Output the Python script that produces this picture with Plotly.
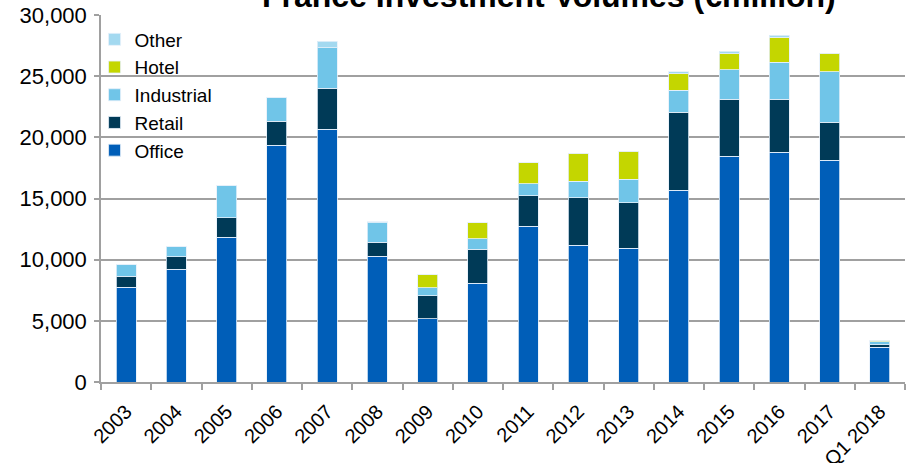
import plotly.graph_objects as go

categories = ["2003", "2004", "2005", "2006", "2007", "2008", "2009", "2010",
              "2011", "2012", "2013", "2014", "2015", "2016", "2017", "Q1 2018"]

office     = [7740, 9210, 11830, 19350, 20680, 10280, 5180, 8070,
              12730, 11170, 10930, 15670, 18470, 18780, 18120, 2840]
retail     = [925, 1010, 1600, 1980, 3350, 1140, 1880, 2800,
              2480, 3900, 3730, 6400, 4660, 4350, 3130, 190]
industrial = [980, 840, 2650, 1940, 3290, 1600, 650, 850,
              1010, 1330, 1910, 1770, 2400, 3000, 4110, 250]
hotel      = [0, 0, 0, 0, 0, 0, 1040, 1280,
              1720, 2300, 2290, 1360, 1310, 2070, 1530, 140]
other      = [0, 0, 0, 0, 550, 80, 0, 0,
              0, 0, 0, 160, 190, 160, 0, 0]

series = [
    ("Office", office, "#005EB8"),
    ("Retail", retail, "#003A57"),
    ("Industrial", industrial, "#70C5E8"),
    ("Hotel", hotel, "#C4D600"),
    ("Other", other, "#A3D9F0"),
]

y_ticks = [0, 5000, 10000, 15000, 20000, 25000, 30000]
title_text = "France Investment Volumes (€million)"

fig = go.Figure()
for name, vals, col in series:
    fig.add_trace(go.Bar(
        x=categories, y=vals, name=name,
        marker=dict(color=col, line=dict(color="rgba(230,240,250,0.8)", width=1)),
    ))

fig.add_annotation(
    text="<b>" + title_text + "</b>", xref="paper", yref="paper",
    x=0.557, y=1.0, xanchor="center", yanchor="bottom", yshift=-1,
    showarrow=False,
    font=dict(size=32, family="Liberation Sans, Arial, sans-serif", color="black"),
)

fig.update_layout(
    width=911, height=463,
    barmode="stack", bargap=0.6,
    paper_bgcolor="white", plot_bgcolor="white",
    margin=dict(l=101, r=6, t=15, b=81),
    font=dict(family="Liberation Sans, Arial, sans-serif", color="black"),
    showlegend=True,
    legend=dict(traceorder="reversed", x=-0.008, y=0.985, xanchor="left", yanchor="top",
                font=dict(size=19), bgcolor="rgba(0,0,0,0)", tracegroupgap=0),
    xaxis=dict(tickangle=-45, tickfont=dict(size=20), showline=True, linecolor="#A0A0A0",
               linewidth=2, ticks="outside", ticklen=6, tickcolor="#A0A0A0", tickwidth=1.5,
               tickson="boundaries", showgrid=False, automargin=False, ticklabelstandoff=8),
    yaxis=dict(range=[0, 30000], tickvals=y_ticks, tickformat=",", tickfont=dict(size=22),
               showline=True, linecolor="#A0A0A0", linewidth=1.5, ticks="outside", ticklen=5,
               tickcolor="#A0A0A0", tickwidth=1.5, showgrid=True, gridcolor="#A0A0A0",
               gridwidth=1.5, zeroline=False, ticklabelstandoff=3, automargin=False),
)

fig.write_html("out.html", config={"displayModeBar": False},
               post_script="document.body.style.margin='0';document.body.style.padding='0';")
